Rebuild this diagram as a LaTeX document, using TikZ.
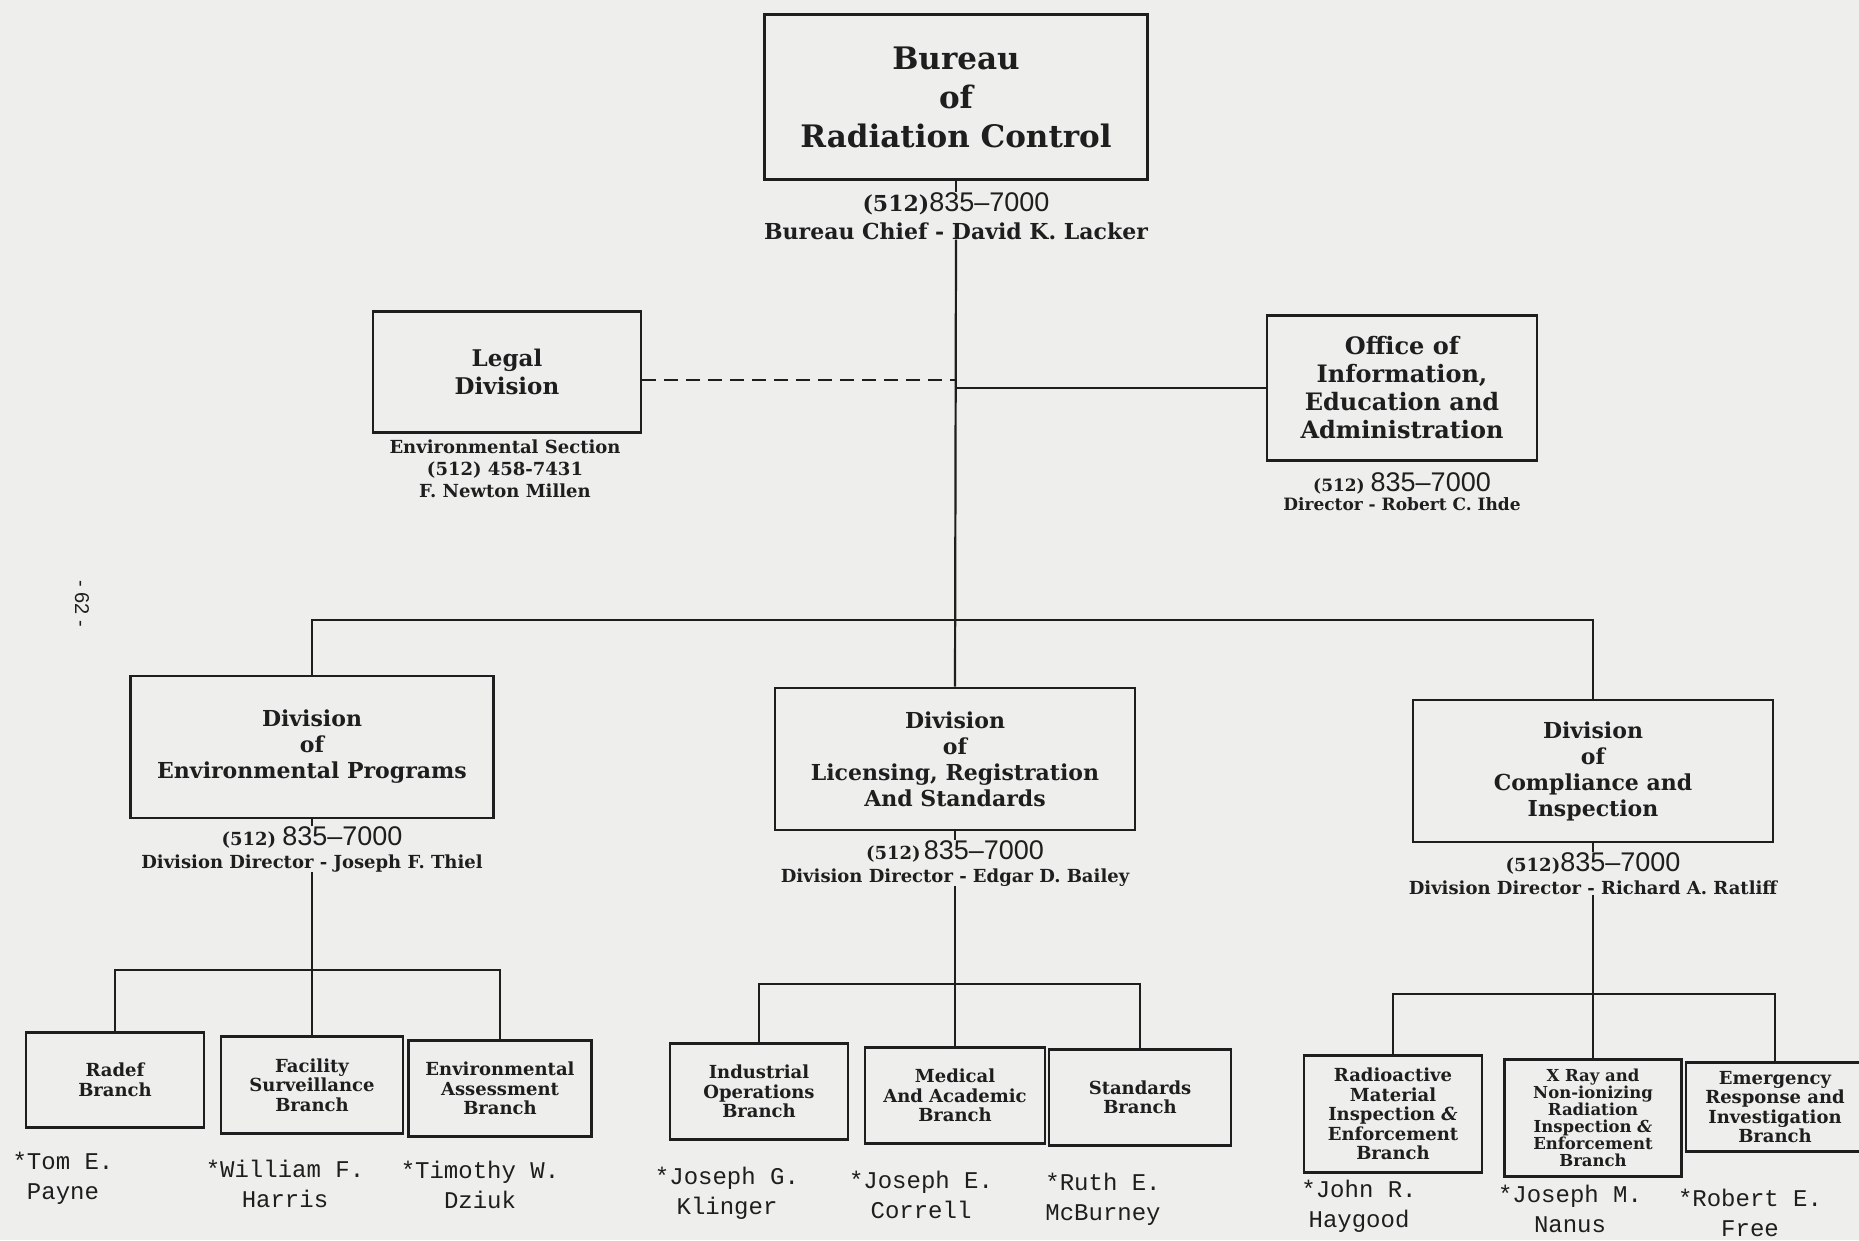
\documentclass[tikz,border=0pt]{standalone}
\usepackage{fontspec}
\setmainfont{DejaVu Serif}
\setsansfont{Liberation Sans}
\setmonofont{Liberation Mono}
\usepackage{tikz}

\definecolor{paper}{RGB}{238,238,236}
\definecolor{ink}{RGB}{30,30,30}
\newcommand{\fsz}[2]{\fontsize{#1}{#2}\selectfont}
\newcommand{\telno}{{\sffamily\mdseries\fsz{27}{27}835--7000}}

\begin{document}
\begin{tikzpicture}[x=1pt, y=-1pt,
  every node/.style={font=\bfseries, text=ink},
  box/.style={draw=ink, line width=2.6pt, align=center, inner sep=3pt},
  branch/.style={box, anchor=north},
  info/.style={align=center, anchor=north, inner sep=0pt},
  who/.style={align=center, anchor=north, inner sep=0pt, font=\ttfamily\fsz{24}{30}},
  link/.style={draw=ink, line width=2.2pt}]

% page and its size
\fill[paper] (0,0) rectangle (1859,1240);
\useasboundingbox (0,0) rectangle (1859,1240);

% Bureau and staff offices
\node[box, minimum width=383, minimum height=165, font=\bfseries\fsz{31}{39}] (bureau) at (956,97) {Bureau\\of\\Radiation Control};
\node[info, font=\bfseries\fsz{22}{28}] (bureauinfo) at (956,192) {(512)\telno\\Bureau Chief - David K. Lacker};

\node[box, minimum width=268, minimum height=121, font=\bfseries\fsz{23}{28}] (legal) at (507,372) {Legal\\Division};
\node[info, font=\bfseries\fsz{18}{22}] (legalinfo) at (505,440) {Environmental Section\\(512) 458-7431\\F. Newton Millen};

\node[box, minimum width=270, minimum height=145, font=\bfseries\fsz{24}{28}] (office) at (1402,388) {Office of\\Information,\\Education and\\Administration};
\node[info, font=\bfseries\fsz{17}{19}] (officeinfo) at (1402,472) {(512) \telno\\Director - Robert C. Ihde};

% Divisions
\node[box, minimum width=363, minimum height=142, font=\bfseries\fsz{22}{26}] (envdiv) at (312,747) {Division\\of\\Environmental Programs};
\node[info, font=\bfseries\fsz{18}{23}] (envinfo) at (312,826) {(512)\ \telno\\Division Director - Joseph F. Thiel};

\node[box, minimum width=360, minimum height=142, font=\bfseries\fsz{22}{26}] (licdiv) at (955,759) {Division\\of\\Licensing, Registration\\And Standards};
\node[info, font=\bfseries\fsz{18}{23}] (licinfo) at (955,840) {(512)\,\telno\\Division Director - Edgar D. Bailey};

\node[box, minimum width=360, minimum height=142, font=\bfseries\fsz{22}{26}] (compdiv) at (1593,771) {Division\\of\\Compliance and\\Inspection};
\node[info, font=\bfseries\fsz{18}{23}] (compinfo) at (1593,852) {(512)\telno\\Division Director - Richard A. Ratliff};

% Branches
\foreach \nm/\x/\y/\w/\h/\fs/\ls/\txt in {
    radef/115/1031/178/95/18/19.5/{Radef\\Branch},
    facility/312/1035/182/97/18/19.5/{Facility\\Surveillance\\Branch},
    envassess/500/1039/183/96/18/19.5/{Environmental\\Assessment\\Branch},
    industrial/759/1042/178/96/18/19.5/{Industrial\\Operations\\Branch},
    medical/955/1046/180/96/18/19.5/{Medical\\And Academic\\Branch},
    standards/1140/1048/182/96/18/19.5/{Standards\\Branch},
    radioactive/1393/1054/178/117/18/19.5/{Radioactive\\Material\\Inspection {\itshape\&}\\Enforcement\\Branch},
    xray/1593/1058/177/117/16.5/17/{X Ray and\\Non-ionizing\\Radiation\\Inspection {\itshape\&}\\Enforcement\\Branch},
    emergency/1775/1061/178/89/18/19.5/{Emergency\\Response and\\Investigation\\Branch}} {
    \node[branch, minimum width=\w, minimum height=\h, font=\bfseries\fsz{\fs}{\ls}] (\nm) at (\x,\y) {\txt};
}

% Branch chiefs
\foreach \nm/\x/\y/\txt in {
    whoradef/63/1152/{*Tom E.\\Payne},
    whofacility/285/1160/{*William F.\\Harris},
    whoenvassess/480/1161/{*Timothy W.\\Dziuk},
    whoindustrial/727/1167/{*Joseph G.\\Klinger},
    whomedical/921/1171/{*Joseph E.\\Correll},
    whostandards/1103/1173/{*Ruth E.\\McBurney},
    whoradioactive/1359/1180/{*John R.\\Haygood},
    whoxray/1570/1185/{*Joseph M.\\Nanus},
    whoemergency/1750/1189/{*Robert E.\\Free}} {
    \node[who] (\nm) at (\x,\y) {\txt};
}

% page number in the margin
\node[rotate=-90, font=\sffamily\fsz{20}{20}] (pageno) at (82,604) {- 62 -};

% Draw connectors
\coordinate (bus) at (955,620);
\coordinate (envbus) at (312,970);
\coordinate (licbus) at (955,984);
\coordinate (compbus) at (1593,994);

\draw[link] (bureau.south) -- (bureauinfo.north);
\draw[link] (bureauinfo.south) -- (licdiv.north);
\draw[link, dash pattern=on 14pt off 8pt] ([yshift=-8pt]legal.east) -- ([yshift=-8pt]legal.east -| bus);
\draw[link] (office.west) -- (office.west -| bus);
\draw[link] (envdiv.north) |- (bus) -| (compdiv.north);

\draw[link] (envdiv.south) -- (envinfo.north);
\draw[link] (licdiv.south) -- (licinfo.north);
\draw[link] (compdiv.south) -- (compinfo.north);

\draw[link] (envinfo.south) -- (facility.north);
\draw[link] (radef.north) |- (envbus) -| (envassess.north);
\draw[link] (licinfo.south) -- (medical.north);
\draw[link] (industrial.north) |- (licbus) -| (standards.north);
\draw[link] (compinfo.south) -- (xray.north);
\draw[link] (radioactive.north) |- (compbus) -| (emergency.north);

\end{tikzpicture}
\end{document}
